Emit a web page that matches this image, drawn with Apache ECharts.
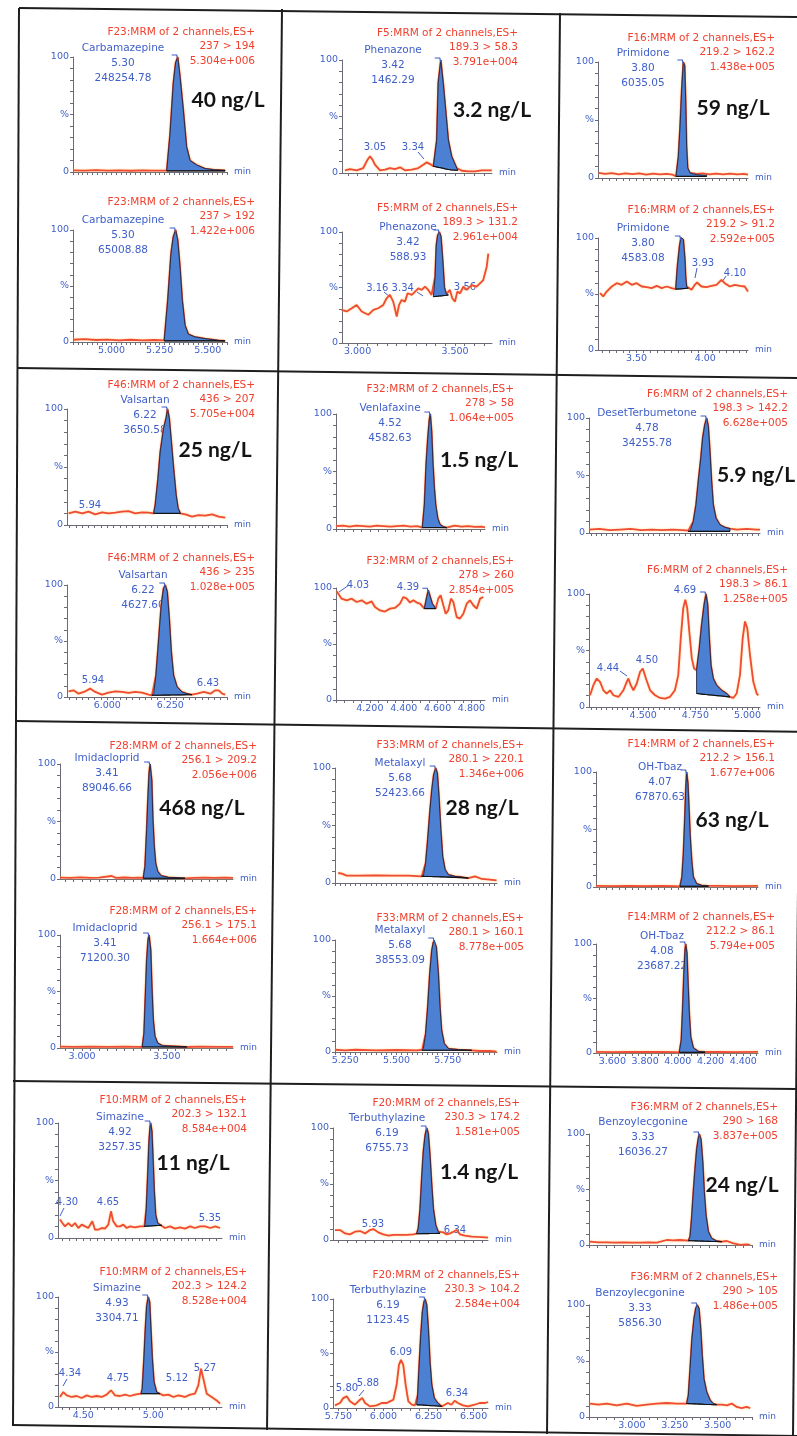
<!DOCTYPE html>
<html><head><meta charset="utf-8">
<script src="https://cdn.jsdelivr.net/npm/echarts@6/dist/echarts.min.js"></script>
<style>html,body{margin:0;padding:0;background:#fff}#c{width:797px;height:1436px}</style>
</head><body><div id="c"></div>
<script>
// ---------------- DATA (time in min, intensity in %) ----------------
// Each trace: [time, %]; each peak: [time, top %, baseline %]
const carbaTop = [[4.80,1.5],[4.86,1.2],[4.92,1.6],[4.98,1.2],[5.04,1.5],[5.10,1.1],[5.16,1.5],[5.22,1.2],[5.287,1.2],[5.304,33],[5.321,77],[5.333,95],[5.344,100],[5.356,83],[5.373,54],[5.39,22],[5.408,10],[5.443,6],[5.486,3],[5.53,2],[5.59,1.5]];
const carbaTopPeak = [[5.287,1.2,1],[5.304,33,1],[5.321,77,1],[5.333,95,1],[5.344,100,1],[5.356,83,1],[5.373,54,1],[5.39,22,1],[5.408,10,1],[5.443,6,1],[5.486,3,1],[5.53,2,1],[5.59,1.5,1]];
const carbaBot = [[4.80,2],[4.86,2.5],[4.92,1.8],[4.98,2.2],[5.04,1.5],[5.10,2],[5.16,1.5],[5.22,1.8],[5.274,1.5],[5.292,37],[5.309,79],[5.321,94],[5.333,100],[5.344,91],[5.356,67],[5.368,37],[5.382,15],[5.399,7],[5.434,4.5],[5.486,3],[5.555,1.5],[5.59,1]];
const carbaBotPeak = [[5.274,1.5,1],[5.292,37,1],[5.309,79,1],[5.321,94,1],[5.333,100,1],[5.344,91,1],[5.356,67,1],[5.368,37,1],[5.382,15,1],[5.399,7,1],[5.434,4.5,1],[5.486,3,1],[5.555,1.5,1],[5.59,1,1]];

const phenaTop = [[2.935,2.4],[2.961,3.5],[2.995,2.4],[3.029,4.4],[3.052,12],[3.064,14.7],[3.076,12],[3.089,7.4],[3.115,2.4],[3.141,2.9],[3.166,4.4],[3.192,3.5],[3.218,5],[3.243,2.4],[3.278,2.9],[3.312,4.4],[3.337,7.4],[3.355,9.4],[3.377,7.4],[3.389,5.9],[3.406,29],[3.414,80],[3.427,100],[3.44,79],[3.452,56],[3.466,29],[3.483,14.7],[3.509,4.4],[3.535,2],[3.569,1.5],[3.603,1.5],[3.637,2.4],[3.689,2.4]];
const phenaTopPeak = [[3.389,5.9,5.9],[3.406,29,5.3],[3.414,80,5.0],[3.427,100,4.6],[3.44,79,4.1],[3.452,56,3.6],[3.466,29,3.1],[3.483,14.7,2.7],[3.509,4.4,2.5],[3.515,2.4,2.4]];
const phenaBot = [[2.918,29.9],[2.944,28.4],[2.97,31.3],[2.995,34.3],[3.021,28.4],[3.055,25.4],[3.081,29.9],[3.106,31.3],[3.132,34.3],[3.149,40.3],[3.166,43.3],[3.183,37.3],[3.201,23.9],[3.213,34.3],[3.226,38.8],[3.243,37.3],[3.257,44.8],[3.278,43.3],[3.295,46.3],[3.312,49.3],[3.329,47.8],[3.346,50.7],[3.363,47.8],[3.38,43.3],[3.389,41.8],[3.398,60],[3.404,88],[3.411,97],[3.42,100],[3.428,96],[3.437,75],[3.446,50],[3.456,44],[3.466,43.3],[3.474,47.8],[3.486,40.3],[3.5,37.3],[3.512,46.3],[3.526,44.8],[3.543,50.7],[3.56,47.8],[3.586,52.2],[3.611,50.7],[3.628,53.7],[3.645,56.7],[3.663,68.7],[3.671,80.6]];
const phenaBotPeak = [[3.389,41.8,41.8],[3.398,60,41.9],[3.404,88,42],[3.411,97,42.1],[3.42,100,42.3],[3.428,96,42.4],[3.437,75,42.6],[3.446,50,42.8],[3.456,44,43],[3.466,43.3,43.3]];

const primiTop = [[3.225,4.5],[3.27,3.5],[3.32,4.2],[3.37,3.2],[3.42,4],[3.47,3.4],[3.52,4],[3.57,3],[3.62,3.8],[3.67,3.2],[3.72,3.6],[3.76,3],[3.787,1.4],[3.804,18.6],[3.816,44],[3.828,76],[3.84,100],[3.85,97],[3.857,67],[3.864,27],[3.872,8.6],[3.889,4.3],[3.937,3.5],[3.98,4],[4.03,3.2],[4.08,3.8],[4.13,3.2],[4.18,3.8],[4.23,3.2],[4.28,3.6],[4.31,3]];
const primiTopPeak = [[3.787,1.4,1.4],[3.804,18.6,1.4],[3.816,44,1.4],[3.828,76,1.4],[3.84,100,1.4],[3.85,97,1.4],[3.857,67,1.4],[3.864,27,1.4],[3.872,8.6,1.4],[3.889,4.3,1.4],[3.937,2.9,1.4],[4.01,2.3,1.4]];
const primiBot = [[3.235,50.7],[3.258,47.8],[3.283,52.2],[3.32,56.7],[3.356,59.7],[3.392,58.2],[3.429,61.2],[3.465,58.2],[3.501,59.7],[3.538,56.7],[3.574,56.1],[3.61,55.2],[3.647,57.3],[3.683,55.2],[3.719,56.7],[3.756,55.2],[3.785,54.3],[3.797,74.6],[3.812,92.5],[3.822,100],[3.829,100],[3.84,98.5],[3.852,80.6],[3.857,65.7],[3.864,56.7],[3.876,55.2],[3.9,53.7],[3.923,58.2],[3.94,60.3],[3.972,56.7],[4.008,56.1],[4.045,57.3],[4.081,58.2],[4.117,62.7],[4.141,59.7],[4.178,56.7],[4.214,58.2],[4.25,57.3],[4.286,56.7],[4.31,52.2]];
const primiBotPeak = [[3.785,54.3,54.3],[3.797,74.6,54.4],[3.812,92.5,54.5],[3.822,100,54.6],[3.829,100,54.7],[3.84,98.5,54.8],[3.852,80.6,54.9],[3.857,65.7,55],[3.864,56.7,55.1],[3.876,55.2,55.2]];

const valsaTop = [[5.846,10],[5.873,11.5],[5.9,10],[5.926,11.5],[5.952,9.2],[5.979,10.9],[6.005,10],[6.032,10.6],[6.058,11.5],[6.084,12],[6.111,10],[6.138,10.9],[6.164,10.6],[6.184,10],[6.19,17],[6.201,40],[6.21,63],[6.223,83],[6.234,93],[6.239,100],[6.246,92],[6.254,72],[6.263,49],[6.273,26],[6.281,14.4],[6.29,10],[6.31,9.2],[6.336,7.2],[6.362,8.6],[6.389,8],[6.416,9.2],[6.442,7.2],[6.468,6.3]];
const valsaTopPeak = [[6.184,10,10],[6.19,17,10],[6.201,40,10],[6.21,63,10],[6.223,83,10],[6.234,93,10],[6.239,100,10],[6.246,92,10],[6.254,72,10],[6.263,49,10],[6.273,26,10],[6.281,14.4,10],[6.29,10,10]];
const valsaBot = [[5.846,5.1],[5.866,6],[5.886,3],[5.913,5.1],[5.932,7.5],[5.952,4.5],[5.979,2.1],[6.005,3.9],[6.032,5.1],[6.058,4.5],[6.084,3.6],[6.111,4.5],[6.138,3.9],[6.164,2.1],[6.177,1.5],[6.184,3],[6.193,19.4],[6.204,52],[6.214,82],[6.223,97],[6.23,100],[6.238,94],[6.246,70],[6.254,40],[6.263,19.4],[6.277,9],[6.296,4.5],[6.316,3],[6.336,2.1],[6.356,3],[6.383,4.5],[6.409,3],[6.429,6],[6.442,6],[6.456,3],[6.468,2.1]];
const valsaBotPeak = [[6.177,1.5,1.5],[6.184,3,1.5],[6.193,19.4,1.6],[6.204,52,1.6],[6.214,82,1.6],[6.223,97,1.7],[6.23,100,1.7],[6.238,94,1.7],[6.246,70,1.7],[6.254,40,1.8],[6.263,19.4,1.8],[6.277,9,1.8],[6.296,4.5,1.9],[6.316,3,2],[6.336,2.1,2.1]];

const venlaTop = [[4.0,2.5],[4.04,3],[4.08,2],[4.12,3],[4.16,2.5],[4.2,2],[4.24,3],[4.28,2.5],[4.32,2],[4.36,2.5],[4.4,3],[4.44,2],[4.48,2.5],[4.51,1.2],[4.522,21],[4.532,56],[4.542,79],[4.551,95],[4.557,100],[4.565,85],[4.573,56],[4.581,35.5],[4.589,21],[4.601,9.3],[4.614,4],[4.634,2],[4.654,1.2],[4.7,3],[4.74,2],[4.78,2.5],[4.82,1.8],[4.86,2],[4.88,1.5]];
const venlaTopPeak = [[4.51,1.2,1.2],[4.522,21,1.2],[4.532,56,1.2],[4.542,79,1.2],[4.551,95,1.2],[4.557,100,1.2],[4.565,85,1.2],[4.573,56,1.2],[4.581,35.5,1.2],[4.589,21,1.2],[4.601,9.3,1.2],[4.614,4,1.2],[4.634,2,1.2],[4.654,1.2,1.2]];
const venlaBot = [[4.004,97],[4.033,90.5],[4.063,89],[4.093,90.5],[4.122,87.5],[4.152,89],[4.181,86],[4.211,88],[4.23,83],[4.26,80],[4.289,79],[4.319,81.6],[4.348,82.2],[4.378,86],[4.398,92],[4.418,90.5],[4.437,87],[4.457,89],[4.477,87],[4.496,86],[4.522,81.6],[4.536,92],[4.545,98],[4.557,92],[4.569,86],[4.589,81.6],[4.604,90.5],[4.618,93.5],[4.634,84.6],[4.648,77],[4.663,80],[4.679,90.5],[4.693,87.5],[4.713,74],[4.732,72.7],[4.752,77],[4.772,86],[4.791,89],[4.811,84.6],[4.831,81.6],[4.851,90.5],[4.87,92]];
const venlaBotPeak = [[4.522,81.6,81.6],[4.536,92,81.6],[4.545,98,81.6],[4.557,92,81.6],[4.569,86,81.6],[4.589,81.6,81.6]];

const desetTop = [[4.24,3],[4.29,3.5],[4.34,2.5],[4.39,3],[4.44,3.5],[4.49,2.5],[4.54,3],[4.59,2.5],[4.64,3],[4.69,2.5],[4.716,2],[4.724,1.4],[4.74,10],[4.753,24.6],[4.764,45],[4.776,65],[4.785,82.6],[4.795,94],[4.804,100],[4.812,93],[4.82,71],[4.828,45],[4.836,24.6],[4.849,13],[4.868,7.2],[4.892,4.9],[4.916,3.8],[4.948,2.9],[4.996,3.5],[5.044,2.9],[5.06,3]];
const desetTopPeak = [[4.716,1.6,1.4],[4.724,1.4,1.4],[4.74,10,1.4],[4.753,24.6,1.4],[4.764,45,1.4],[4.776,65,1.4],[4.785,82.6,1.4],[4.795,94,1.4],[4.804,100,1.4],[4.812,93,1.4],[4.82,71,1.4],[4.828,45,1.4],[4.836,24.6,1.4],[4.849,13,1.4],[4.868,7.2,1.4],[4.892,4.9,1.4],[4.916,3.8,1.4]];
const desetBot = [[4.245,10.4],[4.261,19.3],[4.277,25.2],[4.293,22.3],[4.309,14.8],[4.325,11.9],[4.341,14.8],[4.357,10.4],[4.381,8.9],[4.405,14.8],[4.421,22.3],[4.429,25.2],[4.44,19.3],[4.453,14.8],[4.469,20.8],[4.485,31.2],[4.498,34.1],[4.513,25.2],[4.533,14.8],[4.557,10.4],[4.581,8],[4.605,7.4],[4.628,8.9],[4.652,14.8],[4.668,28.2],[4.68,60.8],[4.692,87.5],[4.702,95],[4.711,87.5],[4.721,66.8],[4.733,43],[4.744,34.1],[4.756,32.6],[4.769,52],[4.78,72.7],[4.792,90.5],[4.801,100],[4.809,90.5],[4.817,60.8],[4.825,37],[4.836,25.2],[4.852,19.3],[4.876,14.8],[4.9,11.9],[4.916,8.9],[4.932,8],[4.948,11.9],[4.964,28.2],[4.977,60.8],[4.988,75.7],[4.999,69.7],[5.012,46],[5.028,22.3],[5.044,11.9],[5.052,10.4]];
const desetBotPeak = [[4.756,32.6,11.9],[4.769,52,11.7],[4.78,72.7,11.4],[4.792,90.5,11.2],[4.801,100,11],[4.809,90.5,10.9],[4.817,60.8,10.7],[4.825,37,10.6],[4.836,25.2,10.4],[4.852,19.3,10.1],[4.876,14.8,9.7],[4.9,11.9,9.2],[4.916,8.9,8.9]];

const imidaTop = [[2.87,1.2],[2.93,1],[2.99,1.4],[3.05,1],[3.1,1.2],[3.175,2.6],[3.2,1],[3.25,1.3],[3.3,1],[3.33,1.2],[3.361,0.9],[3.371,11],[3.381,43],[3.387,66],[3.395,92],[3.401,100],[3.411,86],[3.418,51],[3.426,28],[3.434,14],[3.446,6.6],[3.466,2.9],[3.509,1.4],[3.607,0.6],[3.66,1],[3.72,1.2],[3.78,0.9],[3.84,1.1],[3.89,1]];
const imidaTopPeak = [[3.361,0.9,0.6],[3.371,11,0.6],[3.381,43,0.6],[3.387,66,0.6],[3.395,92,0.6],[3.401,100,0.6],[3.411,86,0.6],[3.418,51,0.6],[3.426,28,0.6],[3.434,14,0.6],[3.446,6.6,0.6],[3.466,2.9,0.6],[3.509,1.4,0.6],[3.607,0.8,0.6]];
const imidaBot = [[2.87,1.2],[2.95,1],[3.05,1.3],[3.15,1],[3.25,1.2],[3.33,1],[3.355,0.9],[3.365,13],[3.373,45.6],[3.381,78],[3.389,95.6],[3.395,100],[3.405,86.8],[3.412,54],[3.42,25],[3.43,10.3],[3.446,4.4],[3.475,2],[3.617,0.9],[3.7,1.2],[3.8,1],[3.89,1]];
const imidaBotPeak = [[3.355,0.9,0.9],[3.365,13,0.9],[3.373,45.6,0.9],[3.381,78,0.9],[3.389,95.6,0.9],[3.395,100,0.9],[3.405,86.8,0.9],[3.412,54,0.9],[3.42,25,0.9],[3.43,10.3,0.9],[3.446,4.4,0.9],[3.475,2,0.9],[3.617,1.1,0.9]];

const metalTop = [[5.216,8.7],[5.233,8.1],[5.257,6.4],[5.314,6.4],[5.395,6.7],[5.477,6.4],[5.558,6.4],[5.623,5.8],[5.631,6.4],[5.642,17.4],[5.652,37.7],[5.662,61],[5.672,81],[5.681,94],[5.691,100],[5.699,95.7],[5.707,75.4],[5.716,46.4],[5.725,23.2],[5.737,11.6],[5.753,7.2],[5.785,5.8],[5.818,5.2],[5.85,4.3],[5.883,5.8],[5.916,3.5],[5.955,2.9],[5.988,2.3]];
const metalTopPeak = [[5.623,5.8,5.8],[5.631,6.4,5.8],[5.642,17.4,5.7],[5.652,37.7,5.7],[5.662,61,5.6],[5.672,81,5.6],[5.681,94,5.5],[5.691,100,5.5],[5.699,95.7,5.4],[5.707,75.4,5.4],[5.716,46.4,5.3],[5.725,23.2,5.3],[5.737,11.6,5.2],[5.753,7.2,5.1],[5.785,5.8,4.9],[5.818,5.2,4.6],[5.85,4.3,4.3]];
const metalBot = [[5.2,2],[5.25,1.5],[5.3,2],[5.4,1.5],[5.5,1.8],[5.6,1.5],[5.625,2],[5.631,3],[5.642,16.4],[5.652,40.3],[5.662,70],[5.672,91],[5.68,98.5],[5.684,100],[5.694,94],[5.704,70],[5.712,40.3],[5.72,19.4],[5.733,7.5],[5.753,3],[5.802,2.1],[5.867,1.5],[5.906,0.9],[5.955,0.9],[5.988,0.3]];
const metalBotPeak = [[5.625,2,1.5],[5.631,3,1.5],[5.642,16.4,1.5],[5.652,40.3,1.5],[5.662,70,1.5],[5.672,91,1.5],[5.68,98.5,1.5],[5.684,100,1.5],[5.694,94,1.5],[5.704,70,1.5],[5.712,40.3,1.5],[5.72,19.4,1.5],[5.733,7.5,1.5],[5.753,3,1.5],[5.802,2.1,1.5],[5.867,1.5,1.5]];

const ohtbaTop = [[3.5,1],[3.6,0.8],[3.7,1],[3.8,0.8],[3.9,1],[3.98,0.8],[4.013,0.6],[4.025,8.7],[4.034,29],[4.042,58],[4.048,84],[4.054,100],[4.062,90],[4.068,70],[4.076,43.5],[4.085,23],[4.095,8.7],[4.115,2.9],[4.146,1.4],[4.187,0.9],[4.25,1],[4.35,0.8],[4.49,1]];
const ohtbaTopPeak = [[4.013,0.6,0.6],[4.025,8.7,0.6],[4.034,29,0.6],[4.042,58,0.6],[4.048,84,0.6],[4.054,100,0.6],[4.062,90,0.6],[4.068,70,0.6],[4.076,43.5,0.6],[4.085,23,0.6],[4.095,8.7,0.6],[4.115,2.9,0.6],[4.146,1.4,0.6],[4.187,0.9,0.6]];
const ohtbaBot = [[3.5,1],[3.6,0.8],[3.7,1],[3.8,0.9],[3.9,1],[3.98,0.8],[4.009,0.6],[4.021,12],[4.029,40],[4.037,73],[4.044,94.5],[4.048,100],[4.056,91.5],[4.062,67],[4.07,36.6],[4.079,15],[4.095,4.6],[4.125,1.5],[4.166,0.9],[4.25,1],[4.35,0.8],[4.49,1]];
const ohtbaBotPeak = [[4.009,0.6,0.6],[4.021,12,0.6],[4.029,40,0.6],[4.037,73,0.6],[4.044,94.5,0.6],[4.048,100,0.6],[4.056,91.5,0.6],[4.062,67,0.6],[4.07,36.6,0.6],[4.079,15,0.6],[4.095,4.6,0.6],[4.125,1.5,0.6],[4.166,0.9,0.6]];

const simazTop = [[4.334,16],[4.351,13],[4.37,10.1],[4.394,13],[4.418,10.1],[4.441,13],[4.465,8.7],[4.489,11.6],[4.513,10.1],[4.536,8.7],[4.565,14.5],[4.584,7.2],[4.607,7.2],[4.632,8.7],[4.655,8.1],[4.679,11.6],[4.698,23.2],[4.714,14.5],[4.739,10.1],[4.762,10.1],[4.786,11.6],[4.81,8.7],[4.834,10.1],[4.869,9.3],[4.905,10.1],[4.936,10.1],[4.941,11.6],[4.95,26],[4.96,55],[4.969,84],[4.976,95.7],[4.981,100],[4.99,92.8],[4.998,69.6],[5.007,40.6],[5.017,20.3],[5.031,13],[5.048,11.6],[5.06,11],[5.083,8.7],[5.119,10.1],[5.155,8.1],[5.19,9.3],[5.226,8.1],[5.263,10.1],[5.297,8.7],[5.333,10.1],[5.37,10.1],[5.406,8.7],[5.442,10.1],[5.476,8.7]];
const simazTopPeak = [[4.936,10.1,10.1],[4.941,11.6,10.2],[4.95,26,10.2],[4.96,55,10.3],[4.969,84,10.4],[4.976,95.7,10.4],[4.981,100,10.5],[4.99,92.8,10.5],[4.998,69.6,10.6],[5.007,40.6,10.7],[5.017,20.3,10.8],[5.031,13,10.9],[5.048,11.6,10.9],[5.06,11,11]];
const simazBot = [[4.334,9.1],[4.358,13.6],[4.382,10.6],[4.418,9.1],[4.453,10],[4.489,8.2],[4.525,10.6],[4.56,9.1],[4.596,10],[4.632,9.1],[4.667,11.2],[4.698,15.2],[4.727,10.6],[4.762,10],[4.798,11.2],[4.834,10],[4.869,11.2],[4.912,12.1],[4.921,16.7],[4.933,44],[4.943,71],[4.953,92.4],[4.964,100],[4.974,95.5],[4.983,71],[4.993,44],[5.005,22.7],[5.024,13.6],[5.048,12.1],[5.071,10.6],[5.107,11.2],[5.143,9.1],[5.178,10.6],[5.226,9.1],[5.263,11.2],[5.297,12.1],[5.321,19.7],[5.34,34.8],[5.357,25.8],[5.381,12.1],[5.416,9.1],[5.452,6],[5.476,3]];
const simazBotPeak = [[4.912,12.1,12.1],[4.921,16.7,12.1],[4.933,44,12.1],[4.943,71,12.1],[4.953,92.4,12.1],[4.964,100,12.1],[4.974,95.5,12.1],[4.983,71,12.1],[4.993,44,12.1],[5.005,22.7,12.1],[5.024,13.6,12.1],[5.048,12.1,12.1]];

const terbuTop = [[5.731,8.9],[5.759,8.9],[5.787,5.9],[5.814,5],[5.842,7.4],[5.87,8],[5.898,5.9],[5.925,8.9],[5.944,9.8],[5.971,6.8],[5.999,5],[6.027,3.9],[6.055,4.5],[6.092,4.5],[6.129,4.5],[6.166,5],[6.184,5.6],[6.193,10.4],[6.203,28],[6.212,55],[6.221,78.6],[6.231,93.5],[6.24,100],[6.249,95],[6.258,75.7],[6.268,49],[6.277,28],[6.29,13.4],[6.304,7.4],[6.314,5.9],[6.332,6.8],[6.351,5],[6.369,5.9],[6.388,7.4],[6.406,8.9],[6.425,5],[6.452,3.9],[6.49,3],[6.526,2.7],[6.564,2.4],[6.58,2.1]];
const terbuTopPeak = [[6.184,5.6,5.6],[6.193,10.4,5.6],[6.203,28,5.6],[6.212,55,5.6],[6.221,78.6,5.7],[6.231,93.5,5.7],[6.24,100,5.7],[6.249,95,5.7],[6.258,75.7,5.8],[6.268,49,5.8],[6.277,28,5.8],[6.29,13.4,5.8],[6.304,7.4,5.9],[6.314,5.9,5.9]];
const terbuBot = [[5.731,2.4],[5.759,4.6],[5.777,9.1],[5.796,10.7],[5.814,6.1],[5.842,3],[5.87,7.6],[5.883,9.1],[5.898,4.6],[5.925,1.5],[5.962,2.4],[5.99,4.6],[6.018,4.6],[6.036,6.1],[6.055,7.6],[6.073,21.3],[6.086,39.6],[6.097,44.2],[6.11,39.6],[6.123,21.3],[6.138,6.1],[6.157,3],[6.175,2.4],[6.184,3],[6.19,12.2],[6.197,36.6],[6.207,67],[6.216,88.4],[6.225,97.6],[6.231,100],[6.24,94.5],[6.249,73],[6.258,42.7],[6.268,21.3],[6.282,9.1],[6.301,4.6],[6.323,1.5],[6.34,3],[6.358,4.6],[6.377,3],[6.395,6.7],[6.413,4.6],[6.441,2.4],[6.469,1.5],[6.506,3],[6.534,4.6],[6.564,4.6],[6.58,5.5]];
const terbuBotPeak = [[6.184,3,3],[6.19,12.2,2.9],[6.197,36.6,2.9],[6.207,67,2.8],[6.216,88.4,2.7],[6.225,97.6,2.6],[6.231,100,2.5],[6.24,94.5,2.4],[6.249,73,2.3],[6.258,42.7,2.2],[6.268,21.3,2.1],[6.282,9.1,2],[6.301,4.6,1.8],[6.323,1.5,1.5]];

const benzoTop = [[2.756,3],[2.805,2.4],[2.853,2.4],[2.9,2.1],[2.95,2.4],[3.0,2.1],[3.047,2.1],[3.1,2.4],[3.145,2.1],[3.203,4.5],[3.24,4.2],[3.28,4.5],[3.329,3.9],[3.339,7.5],[3.348,24],[3.358,48],[3.368,69],[3.378,87],[3.387,96],[3.393,100],[3.403,95],[3.413,75],[3.422,48],[3.432,27],[3.446,12],[3.465,6],[3.494,3.6],[3.524,3],[3.553,3.6],[3.592,1.5],[3.631,0.2],[3.669,0.6],[3.689,0.2]];
const benzoTopPeak = [[3.329,3.9,3.9],[3.339,7.5,3.9],[3.348,24,3.8],[3.358,48,3.8],[3.368,69,3.7],[3.378,87,3.7],[3.387,96,3.6],[3.393,100,3.6],[3.403,95,3.5],[3.413,75,3.5],[3.422,48,3.4],[3.432,27,3.4],[3.446,12,3.3],[3.465,6,3.2],[3.494,3.6,3.1],[3.524,3,3]];
const benzoBot = [[2.756,12],[2.804,11],[2.853,12],[2.911,10.4],[2.97,12],[3.028,9.9],[3.086,11],[3.145,12],[3.203,12.5],[3.261,12],[3.319,12],[3.329,19.4],[3.339,43.3],[3.35,70],[3.362,88],[3.372,97],[3.381,100],[3.391,97],[3.401,79],[3.41,55],[3.42,34],[3.436,22.4],[3.456,15],[3.474,12],[3.494,11],[3.524,11],[3.553,10.4],[3.582,12],[3.611,9],[3.64,8],[3.669,9],[3.689,8]];
const benzoBotPeak = [[3.319,12,12],[3.329,19.4,11.9],[3.339,43.3,11.9],[3.35,70,11.8],[3.362,88,11.7],[3.372,97,11.7],[3.381,100,11.6],[3.391,97,11.5],[3.401,79,11.5],[3.41,55,11.4],[3.42,34,11.3],[3.436,22.4,11.2],[3.456,15,11.1],[3.474,12,11],[3.494,11,11]];

// x ranges [min, max] (min)
const xRanges = [[4.80,5.60],[2.92,3.69],[3.22,4.31],[5.84,6.475],[4.00,4.88],[4.24,5.06],[2.87,3.89],[5.20,5.99],[3.50,4.49],[4.32,5.49],[5.72,6.58],[2.75,3.70]];
// x tick labels (shown under the lower chart of each cell)
const tickLabels = [['5.000','5.250','5.500'],['3.000','3.500'],['3.50','4.00'],['6.000','6.250'],['4.200','4.400','4.600','4.800'],['4.500','4.750','5.000'],['3.000','3.500'],['5.250','5.500','5.750'],['3.600','3.800','4.000','4.200','4.400'],['4.50','5.00'],['5.750','6.000','6.250','6.500'],['3.000','3.250','3.500']];
const minorSteps = [0.025,0.05,0.05,0.025,0.05,0.025,0.05,0.025,0.04,0.05,0.05,0.05];
const concentrations = ['40 ng/L','3.2 ng/L','59 ng/L','25 ng/L','1.5 ng/L','5.9 ng/L','468 ng/L','28 ng/L','63 ng/L','11 ng/L','1.4 ng/L','24 ng/L'];
const titles = [
 'F23:MRM of 2 channels,ES+\n237 > 194\n5.304e+006','F23:MRM of 2 channels,ES+\n237 > 192\n1.422e+006',
 'F5:MRM of 2 channels,ES+\n189.3 > 58.3\n3.791e+004','F5:MRM of 2 channels,ES+\n189.3 > 131.2\n2.961e+004',
 'F16:MRM of 2 channels,ES+\n219.2 > 162.2\n1.438e+005','F16:MRM of 2 channels,ES+\n219.2 > 91.2\n2.592e+005',
 'F46:MRM of 2 channels,ES+\n436 > 207\n5.705e+004','F46:MRM of 2 channels,ES+\n436 > 235\n1.028e+005',
 'F32:MRM of 2 channels,ES+\n278 > 58\n1.064e+005','F32:MRM of 2 channels,ES+\n278 > 260\n2.854e+005',
 'F6:MRM of 2 channels,ES+\n198.3 > 142.2\n6.628e+005','F6:MRM of 2 channels,ES+\n198.3 > 86.1\n1.258e+005',
 'F28:MRM of 2 channels,ES+\n256.1 > 209.2\n2.056e+006','F28:MRM of 2 channels,ES+\n256.1 > 175.1\n1.664e+006',
 'F33:MRM of 2 channels,ES+\n280.1 > 220.1\n1.346e+006','F33:MRM of 2 channels,ES+\n280.1 > 160.1\n8.778e+005',
 'F14:MRM of 2 channels,ES+\n212.2 > 156.1\n1.677e+006','F14:MRM of 2 channels,ES+\n212.2 > 86.1\n5.794e+005',
 'F10:MRM of 2 channels,ES+\n202.3 > 132.1\n8.584e+004','F10:MRM of 2 channels,ES+\n202.3 > 124.2\n8.528e+004',
 'F20:MRM of 2 channels,ES+\n230.3 > 174.2\n1.581e+005','F20:MRM of 2 channels,ES+\n230.3 > 104.2\n2.584e+004',
 'F36:MRM of 2 channels,ES+\n290 > 168\n3.837e+005','F36:MRM of 2 channels,ES+\n290 > 105\n1.486e+005'];
const peakNames = [
 'Carbamazepine\n5.30\n248254.78','Carbamazepine\n5.30\n65008.88',
 'Phenazone\n3.42\n1462.29','Phenazone\n3.42\n588.93',
 'Primidone\n3.80\n6035.05','Primidone\n3.80\n4583.08',
 'Valsartan\n6.22\n3650.58','Valsartan\n6.22\n4627.60',
 'Venlafaxine\n4.52\n4582.63','',
 'DesetTerbumetone\n4.78\n34255.78','',
 'Imidacloprid\n3.41\n89046.66','Imidacloprid\n3.41\n71200.30',
 'Metalaxyl\n5.68\n52423.66','Metalaxyl\n5.68\n38553.09',
 'OH-Tbaz\n4.07\n67870.63','OH-Tbaz\n4.08\n23687.22',
 'Simazine\n4.92\n3257.35','Simazine\n4.93\n3304.71',
 'Terbuthylazine\n6.19\n6755.73','Terbuthylazine\n6.19\n1123.45',
 'Benzoylecgonine\n3.33\n16036.27','Benzoylecgonine\n3.33\n5856.30'];
// minor peak retention-time labels per panel
const rtLabels = [[],[],['3.05','3.34'],['3.16 3.34','3.56'],[],['3.93','4.10'],['5.94'],['5.94','6.43'],[],['4.03','4.39'],[],['4.69','4.44','4.50'],[],[],[],[],[],[],['4.30','4.65','5.35'],['4.34','4.75','5.12','5.27'],['5.93','6.34'],['5.80','5.88','6.09','6.34'],[],[]];

const traces = [carbaTop,carbaBot,phenaTop,phenaBot,primiTop,primiBot,valsaTop,valsaBot,venlaTop,venlaBot,desetTop,desetBot,imidaTop,imidaBot,metalTop,metalBot,ohtbaTop,ohtbaBot,simazTop,simazBot,terbuTop,terbuBot,benzoTop,benzoBot];
const peaks = [carbaTopPeak,carbaBotPeak,phenaTopPeak,phenaBotPeak,primiTopPeak,primiBotPeak,valsaTopPeak,valsaBotPeak,venlaTopPeak,venlaBotPeak,desetTopPeak,desetBotPeak,imidaTopPeak,imidaBotPeak,metalTopPeak,metalBotPeak,ohtbaTopPeak,ohtbaBotPeak,simazTopPeak,simazBotPeak,terbuTopPeak,terbuBotPeak,benzoTopPeak,benzoBotPeak];

// ---------------- LAYOUT (pixels) ----------------
const boxes = [[73,227,57,172],[73,227,230,342],[342,492,60,173],[342,492,232,343],[598,748,62,178],[598,748,238,350],
 [67,227,409,525],[67,227,585,697],[336,485,414,529],[336,485,588,700],[589,760,418,533],[589,760,594,707],
 [60,233,764,879],[60,233,935,1048],[335,497,768,883],[335,497,940,1052],[596,758,772,887],[596,758,944,1053],
 [58,222,1123,1238],[58,222,1297,1407],[333,488,1128,1240],[333,488,1299,1408],[589,752,1134,1245],[589,752,1305,1417]];
const titleAt = [[255,32],[255,202],[518,33],[518,208],[775,38],[775,210],[255,385],[255,558],[514,389],[514,561],[788,394],[788,570],
 [257,746],[257,911],[524,745],[524,918],[775,744],[775,917],[247,1100],[247,1272],[520,1103],[520,1275],[778,1107],[778,1277]];
const nameAt = [[123,48],[123,220],[393,50],[408,227],[643,53],[643,228],[145,400],[143,575],[390,408],null,[647,413],null,
 [107,758],[105,928],[400,763],[400,930],[660,767],[662,936],[120,1117],[117,1288],[387,1118],[388,1290],[643,1122],[640,1293]];
const rtAt = [[],[],[[375,147],[413,147]],[[390,288],[465,287]],[],[[703,263],[735,273]],[[90,505]],[[93,680],[208,683]],[],[[358,585],[408,587]],[],[[685,590],[608,668],[647,660]],
 [],[],[],[],[],[],[[67,1202],[108,1202],[210,1218]],[[70,1373],[118,1378],[177,1378],[205,1368]],[[373,1224],[455,1230]],[[347,1388],[368,1383],[401,1352],[457,1393]],[],[]];
const leaders = [[418,152,424,159],[384,292,390,297],[417,292,423,296],[697,268,695,278],[726,276,722,282],[339,592,349,585],
 [620,671,627,676],[60,1216,64,1208],[63,1386,67,1379],[364,1390,359,1396]];
const concAt = [[228,100],[492,110],[733,108],[215,450],[479,460],[756,475],[202,808],[482,808],[732,820],[193,1163],[479,1172],[742,1185]];
const frameLines = [[19,8,806,17],[17,368,806,378],[15,721,806,732],[13,1081,806,1089],[12,1425,806,1436],
 [19,8,13,1425],[282,9,267,1430],[560,13,547,1434],[806,17,793,1436]];

// ---------------- STYLE ----------------
const BLUE = '#3f5fc8', RED = '#f0402e', TRACE = '#f04b36', FILL = '#4b80d2', AX = '#6b6b78';
const SMALL = '"DejaVu Sans", Verdana, sans-serif';

function tickValues(min, max, step) {
  const out = [];
  for (let k = Math.ceil(min / step - 1e-6); k * step <= max + 1e-9; k++) out.push(+(k * step).toFixed(4));
  return out;
}

function peakRenderer(pk) {
  return function (params, api) {
    if (params.dataIndex !== 0) return null;
    const top = pk.map(p => api.coord([p[0], p[1]]));
    const base = pk.map(p => api.coord([p[0], p[2]]));
    let a = top[0];
    top.forEach(q => { if (q[1] < a[1]) a = q; });
    return { type: 'group', children: [
      { type: 'polygon', shape: { points: top.concat(base.slice().reverse()) },
        style: { fill: FILL, stroke: '#1b2440', lineWidth: 0.9 } },
      { type: 'polyline', shape: { points: base }, style: { stroke: '#111', lineWidth: 1.1, fill: null } },
      { type: 'polyline', shape: { points: [[a[0] - 6, a[1] - 2], [a[0] - 1, a[1] - 2], [a[0], a[1] + 2]] },
        style: { stroke: BLUE, lineWidth: 1.2, fill: null } }
    ] };
  };
}

const grid = [], xAxis = [], yAxis = [], series = [], graphic = [];
for (let i = 0; i < 24; i++) {
  const cell = Math.floor(i / 2), lower = i % 2 === 1;
  const [l, r, t, b] = boxes[i];
  const [xmin, xmax] = xRanges[cell];
  const labels = tickLabels[cell];
  grid.push({ left: l, top: t, width: r - l, height: b - t });
  xAxis.push({
    gridIndex: i, type: 'value', min: xmin, max: xmax, scale: true,
    axisLine: { show: true, onZero: false, lineStyle: { color: AX, width: 1 } },
    axisTick: { show: true, length: 3, customValues: tickValues(xmin, xmax, minorSteps[cell]), lineStyle: { color: AX } },
    axisLabel: { show: lower, customValues: labels.map(Number), color: BLUE, fontSize: 9.5, fontFamily: SMALL, margin: 4,
      formatter: v => { const s = labels.find(q => Math.abs(Number(q) - v) < 1e-6); return s || ''; } },
    splitLine: { show: false },
    name: 'min', nameLocation: 'end', nameGap: 7,
    nameTextStyle: { color: BLUE, fontSize: 9, fontFamily: SMALL, verticalAlign: 'middle' }
  });
  yAxis.push({
    gridIndex: i, type: 'value', min: 0, max: 100, interval: 10,
    axisLine: { show: true, lineStyle: { color: AX, width: 1 } },
    axisTick: { show: true, length: 3, lineStyle: { color: AX } },
    axisLabel: { color: BLUE, fontSize: 9.5, fontFamily: SMALL, margin: 4,
      formatter: v => v === 100 ? '100' : v === 50 ? '%' : v === 0 ? '0' : '' },
    splitLine: { show: false }
  });
  series.push({
    type: 'line', xAxisIndex: i, yAxisIndex: i, data: traces[i], symbol: 'none', silent: true, z: 2,
    lineStyle: { color: TRACE, width: 1.8, shadowColor: 'rgba(255,190,60,0.7)', shadowBlur: 2 }
  });
  series.push({
    type: 'custom', xAxisIndex: i, yAxisIndex: i, coordinateSystem: 'cartesian2d', silent: true, z: 3,
    data: peaks[i], encode: { x: 0, y: 1 }, renderItem: peakRenderer(peaks[i])
  });
  graphic.push({ type: 'text', x: titleAt[i][0], y: titleAt[i][1] - 7, silent: true,
    style: { text: titles[i], fill: RED, font: '10.5px ' + SMALL, align: 'right', verticalAlign: 'top', lineHeight: 14.5 } });
  if (nameAt[i]) graphic.push({ type: 'text', x: nameAt[i][0], y: nameAt[i][1] - 7, silent: true,
    style: { text: peakNames[i], fill: BLUE, font: '10.5px ' + SMALL, align: 'center', verticalAlign: 'top', lineHeight: 15 } });
  rtLabels[i].forEach((s, k) => graphic.push({ type: 'text', x: rtAt[i][k][0], y: rtAt[i][k][1], silent: true,
    style: { text: s, fill: BLUE, font: '10px ' + SMALL, align: 'center', verticalAlign: 'middle' } }));
}
leaders.forEach(f => graphic.push({ type: 'line', silent: true, shape: { x1: f[0], y1: f[1], x2: f[2], y2: f[3] },
  style: { stroke: BLUE, lineWidth: 1 } }));
concentrations.forEach((s, c) => graphic.push({ type: 'text', x: concAt[c][0], y: concAt[c][1], silent: true,
  style: { text: s, fill: '#141414', font: 'bold 21px Lato, "Open Sans", sans-serif', align: 'center', verticalAlign: 'middle' } }));
frameLines.forEach(f => graphic.push({ type: 'line', silent: true, shape: { x1: f[0], y1: f[1], x2: f[2], y2: f[3] },
  style: { stroke: '#1e1e1e', lineWidth: 2 } }));

const chart = echarts.init(document.getElementById('c'));
chart.setOption({ animation: false, backgroundColor: '#ffffff', grid, xAxis, yAxis, series, graphic });
</script></body></html>
